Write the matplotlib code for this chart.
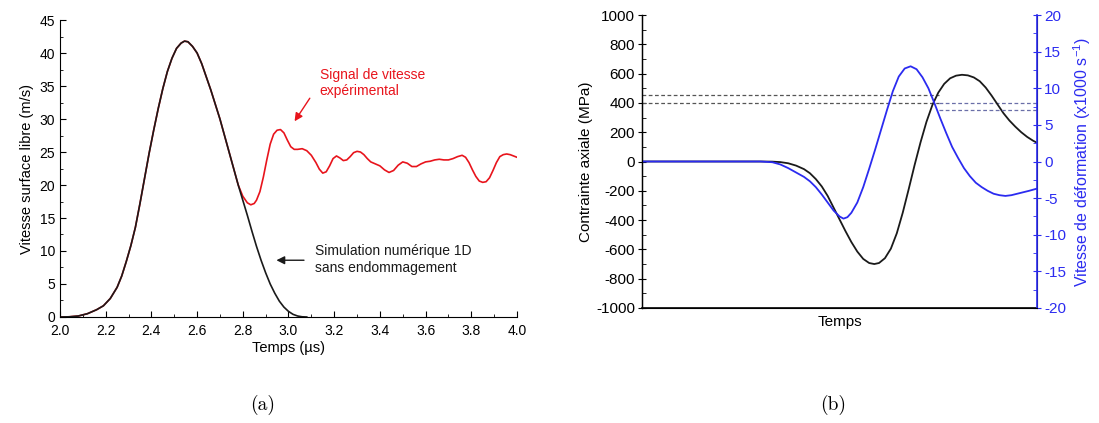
import matplotlib
matplotlib.use("Agg")
import matplotlib.pyplot as plt
from matplotlib.ticker import MultipleLocator, FormatStrFormatter

plt.rcParams['font.family'] = ['Liberation Sans', 'DejaVu Sans']
plt.rcParams['mathtext.fontset'] = 'cm'
plt.rcParams['axes.unicode_minus'] = False

# --- (a) vitesse de surface libre ---
t_sim = [2.0, 2.04, 2.08, 2.12, 2.16, 2.19, 2.22, 2.25, 2.27, 2.29, 2.31, 2.33,
         2.35, 2.37, 2.39, 2.41, 2.43, 2.45, 2.47, 2.49, 2.51, 2.53, 2.545, 2.56,
         2.58, 2.60, 2.62, 2.64, 2.66, 2.68, 2.70, 2.72, 2.74, 2.76, 2.78, 2.80,
         2.82, 2.84, 2.86, 2.88, 2.90, 2.92, 2.94, 2.96, 2.98, 3.0, 3.02, 3.04,
         3.06, 3.08]
v_sim = [0, 0.03, 0.15, 0.5, 1.1, 1.7, 2.8, 4.5, 6.2, 8.4, 10.8, 13.6,
         17.2, 21, 24.8, 28.3, 31.6, 34.6, 37.2, 39.2, 40.7, 41.5, 41.8, 41.7,
         41.0, 40.0, 38.4, 36.4, 34.4, 32.2, 30, 27.5, 25, 22.5, 20, 17.7,
         15.4, 13.0, 10.7, 8.6, 6.7, 5.0, 3.6, 2.4, 1.5, 0.85, 0.4, 0.15,
         0.03, 0]

t_exp = [2.0, 2.04, 2.08, 2.12, 2.16, 2.19, 2.22, 2.25, 2.27, 2.29, 2.31, 2.33,
         2.35, 2.37, 2.39, 2.41, 2.43, 2.45, 2.47, 2.49, 2.51, 2.53, 2.545, 2.56,
         2.58, 2.60, 2.62, 2.64, 2.66, 2.68, 2.70, 2.72, 2.74, 2.76, 2.78,
         2.80, 2.82, 2.835, 2.85, 2.86, 2.875, 2.89, 2.905, 2.92, 2.935, 2.95,
         2.965, 2.98, 2.995, 3.01, 3.025, 3.04, 3.06, 3.08, 3.10, 3.12, 3.135,
         3.15, 3.165, 3.18, 3.195, 3.21, 3.225, 3.24, 3.255, 3.27, 3.285, 3.30,
         3.315, 3.33, 3.345, 3.36, 3.38, 3.40, 3.42, 3.44, 3.46, 3.48, 3.50,
         3.52, 3.54, 3.56, 3.58, 3.60, 3.62, 3.64, 3.66, 3.68, 3.70, 3.72, 3.74,
         3.76, 3.775, 3.79, 3.805, 3.82, 3.835, 3.85, 3.865, 3.88, 3.895, 3.91,
         3.925, 3.94, 3.955, 3.97, 3.985, 4.0]
v_exp = [0, 0.03, 0.15, 0.5, 1.1, 1.7, 2.8, 4.5, 6.2, 8.4, 10.8, 13.6,
         17.2, 21, 24.8, 28.3, 31.6, 34.6, 37.2, 39.2, 40.7, 41.5, 41.8, 41.7,
         41.0, 40.0, 38.4, 36.4, 34.4, 32.2, 30, 27.5, 25, 22.5, 20,
         18.3, 17.3, 17.0, 17.2, 17.7, 19.0, 21.2, 23.8, 26.2, 27.7, 28.3,
         28.4, 27.9, 26.8, 25.8, 25.4, 25.4, 25.5, 25.2, 24.5, 23.4, 22.4,
         21.8, 22.0, 22.9, 24.0, 24.4, 24.1, 23.7, 23.8, 24.3, 24.9, 25.1,
         25.0, 24.6, 24.0, 23.5, 23.2, 22.9, 22.3, 21.9, 22.2, 23.0, 23.5,
         23.3, 22.8, 22.8, 23.2, 23.5, 23.6, 23.8, 23.9, 23.8, 23.8, 24.0, 24.3,
         24.5, 24.2, 23.4, 22.3, 21.3, 20.6, 20.4, 20.5, 21.1, 22.2, 23.4,
         24.3, 24.6, 24.7, 24.6, 24.4, 24.2]

# --- (b) contrainte et vitesse de deformation (temps normalise) ---
t_sig = [0, 0.30, 0.33, 0.35, 0.37, 0.39, 0.41, 0.425, 0.44, 0.455, 0.47, 0.485,
         0.50, 0.515, 0.53, 0.545, 0.56, 0.575, 0.588, 0.60, 0.615, 0.63, 0.645,
         0.66, 0.675, 0.69, 0.705, 0.72, 0.735, 0.75, 0.765, 0.78, 0.795, 0.81,
         0.825, 0.84, 0.855, 0.87, 0.885, 0.90, 0.915, 0.93, 0.945, 0.96, 0.975,
         0.99, 1.0]
sig = [0, 0, -1, -4, -12, -28, -52, -80, -120, -170, -235, -315,
       -395, -475, -550, -615, -665, -693, -700, -693, -660, -595, -490,
       -350, -190, -25, 130, 270, 385, 470, 530, 568, 586, 592,
       588, 574, 548, 505, 450, 390, 330, 280, 238, 200, 168,
       142, 128]

t_eps = [0, 0.30, 0.33, 0.35, 0.37, 0.39, 0.41, 0.425, 0.44, 0.455, 0.47, 0.485,
         0.50, 0.51, 0.52, 0.53, 0.545, 0.56, 0.575, 0.59, 0.605, 0.62, 0.635,
         0.65, 0.665, 0.68, 0.695, 0.71, 0.725, 0.74, 0.755, 0.77, 0.785, 0.80,
         0.815, 0.83, 0.845, 0.86, 0.875, 0.89, 0.905, 0.92, 0.935, 0.95, 0.965,
         0.98, 1.0]
eps = [0, 0, -0.1, -0.4, -0.9, -1.5, -2.1, -2.7, -3.5, -4.5, -5.6, -6.7,
       -7.5, -7.8, -7.6, -7.0, -5.6, -3.5, -1.0, 1.6, 4.3, 7.0, 9.6,
       11.6, 12.7, 13.0, 12.6, 11.5, 10.0, 8.0, 5.9, 3.9, 2.0, 0.5,
       -0.9, -2.0, -2.9, -3.5, -4.0, -4.4, -4.6, -4.7, -4.6, -4.4, -4.2,
       -4.0, -3.7]

seuil_sig_haut = 455
seuil_sig_bas = 400
seuil_eps = 7
t_seuil = 0.752

fig = plt.figure(figsize=(10.99, 4.23), dpi=100)

# panneau (a)
ax1 = fig.add_axes([0.0546, 0.2506, 0.4158, 0.7021])
ax1.plot(t_exp, v_exp, color='#e8141c', lw=1.2)
ax1.plot(t_sim, v_sim, color='#1a1a1a', lw=1.2)
ax1.set_xlim(2.0, 4.0)
ax1.set_ylim(0, 45)
ax1.xaxis.set_major_locator(MultipleLocator(0.2))
ax1.xaxis.set_minor_locator(MultipleLocator(0.1))
ax1.yaxis.set_major_locator(MultipleLocator(5))
ax1.yaxis.set_minor_locator(MultipleLocator(2.5))
ax1.xaxis.set_major_formatter(FormatStrFormatter('%.1f'))
ax1.tick_params(which='major', direction='in', length=4, labelsize=10)
ax1.tick_params(axis='x', which='major', pad=5)
ax1.tick_params(which='minor', direction='in', length=2.5)
ax1.spines['top'].set_visible(False)
ax1.spines['right'].set_visible(False)
ax1.set_xlabel('Temps (µs)', fontsize=10.5, labelpad=2)
ax1.set_ylabel('Vitesse surface libre (m/s)', fontsize=10.5, labelpad=4)

ax1.text(3.137, 37.8, 'Signal de vitesse\nexpérimental', color='#e8141c',
         fontsize=10, va='top', ha='left', linespacing=1.2)
ax1.annotate('', xy=(3.02, 29.3), xytext=(3.10, 33.5),
             arrowprops=dict(arrowstyle='-|>', color='#e8141c', lw=1.0,
                             mutation_scale=12))
ax1.text(3.115, 11.0, 'Simulation numérique 1D\nsans endommagement', color='#1a1a1a',
         fontsize=10, va='top', ha='left', linespacing=1.2)
ax1.annotate('', xy=(2.935, 8.6), xytext=(3.08, 8.6),
             arrowprops=dict(arrowstyle='-|>', color='#1a1a1a', lw=1.0,
                             mutation_scale=12))

# panneau (b)
ax2 = fig.add_axes([0.5842, 0.2719, 0.3594, 0.6926])
ax3 = ax2.twinx()
ax2.plot(t_sig, sig, color='#1a1a1a', lw=1.3, zorder=3)
ax3.plot(t_eps, eps, color='#2b2bf0', lw=1.3)
ax2.set_xlim(0, 1)
ax2.set_ylim(-1000, 1000)
ax3.set_ylim(-20, 20)

ax2.plot([0, t_seuil], [seuil_sig_haut, seuil_sig_haut], ls=(0, (3, 2)),
         color='#555555', lw=0.9)
ax2.plot([0, t_seuil], [seuil_sig_bas, seuil_sig_bas], ls=(0, (3, 2)),
         color='#555555', lw=0.9)
ax2.plot([t_seuil, 1], [seuil_sig_bas, seuil_sig_bas], ls=(0, (3, 2)),
         color='#6a6fa8', lw=0.9)
ax3.plot([t_seuil, 1], [seuil_eps, seuil_eps], ls=(0, (3, 2)),
         color='#6a6fa8', lw=0.9)

ax2.xaxis.set_major_locator(plt.NullLocator())
ax2.yaxis.set_major_locator(MultipleLocator(200))
ax2.yaxis.set_minor_locator(MultipleLocator(100))
ax3.yaxis.set_major_locator(MultipleLocator(5))
ax3.yaxis.set_minor_locator(MultipleLocator(2.5))
ax2.tick_params(axis='y', which='major', direction='inout', length=6, labelsize=11, pad=2)
ax2.tick_params(axis='y', which='minor', direction='in', length=3)
ax3.tick_params(axis='y', which='major', direction='inout', length=6, labelsize=11,
                pad=2, colors='#2b2bf0')
ax3.tick_params(axis='y', which='minor', direction='in', length=3, colors='#2b2bf0')
for a in (ax2, ax3):
    a.spines['top'].set_visible(False)
ax2.spines['bottom'].set_linewidth(1.2)
ax2.spines['left'].set_linewidth(1.0)
ax3.spines['right'].set_color('#2b2bf0')
ax3.spines['right'].set_linewidth(1.2)
ax2.set_xlabel('Temps', fontsize=11, labelpad=5)
ax2.set_ylabel('Contrainte axiale (MPa)', fontsize=11, labelpad=2)
ax3.set_ylabel('Vitesse de déformation (x1000 s$^{\\mathregular{-1}}$)', fontsize=11.5,
               color='#2b2bf0', labelpad=4)

fig.text(0.239, 0.043, '(a)', fontsize=14, family='cmr10', ha='center', va='center')
fig.text(0.758, 0.043, '(b)', fontsize=14, family='cmr10', ha='center', va='center')

fig.savefig('out.png', dpi=100)
plt.close(fig)
